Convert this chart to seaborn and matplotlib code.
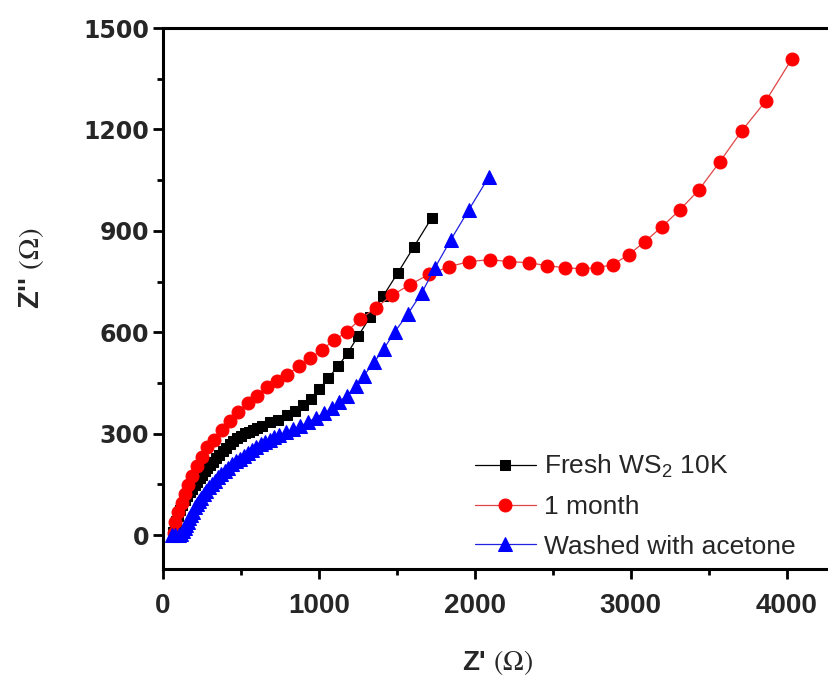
import numpy as np
import pandas as pd
import seaborn as sns
import matplotlib
matplotlib.use("Agg")
import matplotlib.pyplot as plt

# Nyquist data (Z' and Z'' in ohm)
fresh_x = [64, 74, 83, 96, 109, 125, 141, 157, 173, 189, 205, 221, 237, 253, 269, 285, 301, 320,
           340, 362, 385, 407, 429, 451, 474, 500, 526, 551, 577, 606, 635,
           686, 737, 795, 846, 897, 949, 1000, 1058, 1122, 1186, 1250, 1327, 1410, 1506, 1609, 1724]
fresh_y = [9, 25, 41, 58, 74, 89, 103, 115, 127, 138, 148, 158, 168, 179, 189, 198, 207, 217,
           227, 238, 248, 259, 269, 278, 286, 294, 301, 306, 310, 316, 322,
           334, 342, 354, 366, 384, 404, 431, 464, 499, 540, 588, 644, 706, 776, 853, 939]

month_x = [70, 77, 96, 122, 141, 160, 186, 218, 250, 282, 327, 378, 429, 481, 545, 603,
           667, 731, 795, 872, 942, 1019, 1096, 1179, 1263, 1365, 1468, 1583, 1705, 1833,
           1962, 2096, 2218, 2346, 2462, 2577, 2686, 2782, 2885, 2987, 3090, 3199, 3314,
           3436, 3570, 3712, 3865, 4032]
month_y = [6, 38, 68, 94, 121, 148, 174, 204, 230, 260, 283, 310, 337, 363, 390, 413,
           437, 455, 475, 499, 523, 549, 576, 602, 638, 673, 709, 741, 771, 794,
           809, 815, 809, 806, 797, 791, 788, 791, 800, 830, 868, 912, 962,
           1021, 1104, 1196, 1284, 1408]

acetone_x = [60, 80, 100, 118, 130, 140, 150, 160, 170, 180, 192, 205, 218, 232, 246, 262,
             278, 295, 313, 332, 352, 373, 395, 418, 442, 466, 491, 517, 543, 570,
             598, 626, 655, 684, 714, 744, 788, 833, 878, 929, 981, 1032, 1083, 1128, 1179, 1237,
             1288, 1353, 1417, 1487, 1571, 1660, 1744, 1846, 1962, 2090]
acetone_y = [0, 0, 0, 3, 12, 20, 30, 40, 50, 59, 70, 83, 92, 101, 111, 122,
             132, 143, 152, 161, 171, 180, 191, 200, 210, 218, 226, 235, 244, 253,
             261, 269, 277, 283, 289, 295, 304, 313, 322, 334, 348, 360, 375, 393, 413, 440,
             472, 511, 552, 602, 655, 717, 791, 874, 963, 1060]

labels = ["Fresh WS$\\mathregular{_2}$ 10K", "1 month", "Washed with acetone"]

sns.set_style("ticks")
plt.rcParams["font.family"] = ["Liberation Sans", "DejaVu Sans"]
plt.rcParams["mathtext.fontset"] = "stix"

fig, ax = plt.subplots(figsize=(8.29, 6.83), dpi=100)
ax.set_position([0.1966, 0.1669, 0.8277, 0.7921])

# one line per sample
sns.lineplot(x=fresh_x, y=fresh_y, ax=ax, sort=False, estimator=None,
             color="black", linewidth=0.9, marker="s", markersize=7.8,
             markeredgecolor="black", label=labels[0])
sns.lineplot(x=month_x, y=month_y, ax=ax, sort=False, estimator=None,
             color="#e04545", linewidth=0.9, marker="o", markersize=9.3,
             markerfacecolor="red", markeredgecolor="red", label=labels[1])
sns.lineplot(x=acetone_x, y=acetone_y, ax=ax, sort=False, estimator=None,
             color="#2020e0", linewidth=0.9, marker="^", markersize=10,
             markerfacecolor="blue", markeredgecolor="blue", label=labels[2])

ax.set_xlim(0, 4400)
ax.set_ylim(-100, 1500)
ax.set_xticks(range(0, 4001, 1000))
ax.set_xticks(np.arange(500, 4400, 1000), minor=True)
ax.set_yticks(range(0, 1501, 300))
ax.set_yticks(np.arange(150, 1500, 300), minor=True)

for s in ax.spines.values():
    s.set_linewidth(2.2)
    s.set_color("black")
ax.tick_params(which="major", direction="out", length=7, width=2, color="black")
ax.tick_params(which="minor", direction="out", length=4, width=2, color="black")
ax.tick_params(axis="x", pad=10)
ax.tick_params(axis="y", pad=3)

for t in ax.get_xticklabels():
    t.set_fontfamily("Liberation Sans")
    t.set_fontweight("bold")
    t.set_fontsize(20)
for t in ax.get_yticklabels():
    t.set_fontfamily("DejaVu Sans")
    t.set_fontweight("bold")
    t.set_fontsize(17)

ax.set_xlabel("Z' $(\\Omega)$", fontsize=20, fontweight="bold")
ax.set_ylabel("Z'' $(\\Omega)$", fontsize=21, fontweight="bold")
ax.xaxis.set_label_coords(0.487, -0.146)
ax.yaxis.set_label_coords(-0.17, 0.556)

ax.legend(loc="lower left", bbox_to_anchor=(0.573, 0.182), bbox_transform=fig.transFigure,
          frameon=False, fontsize=19, handlelength=2.3, handletextpad=0.3,
          labelspacing=0.58, borderpad=0, borderaxespad=0)

fig.savefig("out.png", dpi=100)
